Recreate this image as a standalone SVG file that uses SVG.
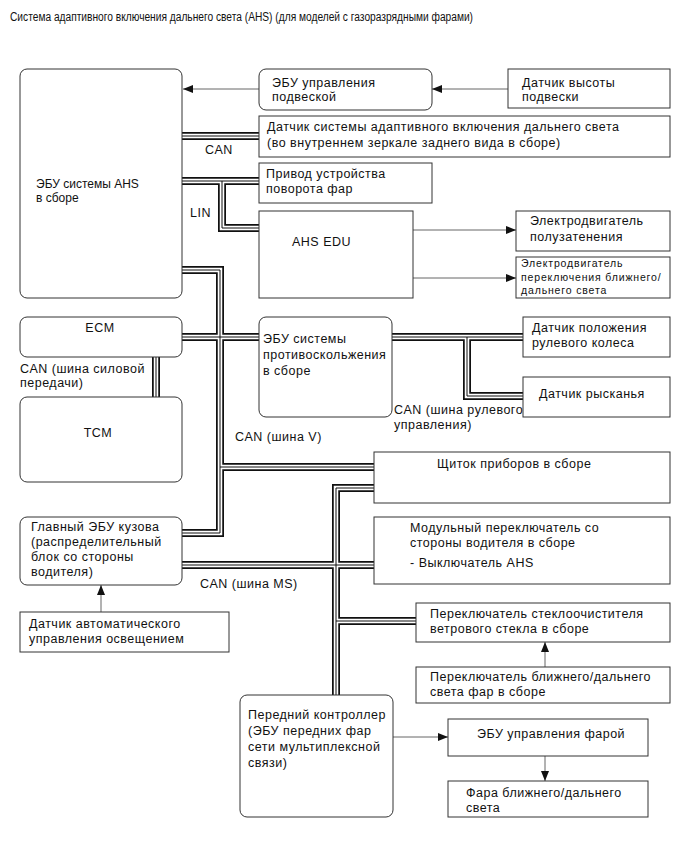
<svg xmlns="http://www.w3.org/2000/svg" xmlns:xlink="http://www.w3.org/1999/xlink" width="689" height="854" viewBox="0 0 689 854">
<style>
  text { font-family: "Liberation Sans", Arial, sans-serif; font-size: 12.5px; letter-spacing: 0.5px; fill: #111; }
  .sm { font-size: 10.5px; letter-spacing: 0.85px; }
  .plain { font-size: 12px; letter-spacing: 0; }
  .box { fill: #fff; stroke: #333; stroke-width: 1; }
  .bo { fill: none; stroke: #111; stroke-width: 8; stroke-linejoin: miter; }
  .bw { fill: none; stroke: #fff; stroke-width: 4.5; stroke-linejoin: miter; }
  .bc { fill: none; stroke: #111; stroke-width: 1; stroke-linejoin: miter; }
  .arr { fill: none; stroke: #666; stroke-width: 1; marker-end: url(#ah); }
</style>
<defs>
  <marker id="ah" viewBox="0 0 10 8" refX="10" refY="4" markerWidth="10" markerHeight="8" markerUnits="userSpaceOnUse" orient="auto">
    <path d="M0,0 L10,4 L0,8 z" fill="#111"/>
  </marker>
  <path id="b_can" d="M182,136 H259"/>
  <path id="b_lin" d="M182,181 H259 M222,181 V228 H259"/>
  <path id="b_v" d="M182,270 H220 V533 H182 M182,337 H259 M220,467 H374"/>
  <path id="b_pt" d="M156,357 V397"/>
  <path id="b_st" d="M392,337 H523 M467,337 V396 H523"/>
  <path id="b_ms" d="M374,488 H336 V695 M182,565 H374 M336,621 H416"/>
</defs>

<text class="plain" x="10" y="21" textLength="463" lengthAdjust="spacingAndGlyphs">Система адаптивного включения дальнего света (AHS) (для моделей с газоразрядными фарами)</text>

<g id="connectors">
  <g id="buses">
    <g class="bo"><use xlink:href="#b_can"/><use xlink:href="#b_lin"/><use xlink:href="#b_v"/><use xlink:href="#b_pt"/><use xlink:href="#b_st"/><use xlink:href="#b_ms"/></g>
    <g class="bw"><use xlink:href="#b_can"/><use xlink:href="#b_lin"/><use xlink:href="#b_v"/><use xlink:href="#b_pt"/><use xlink:href="#b_st"/><use xlink:href="#b_ms"/></g>
    <g class="bc"><use xlink:href="#b_can"/><use xlink:href="#b_lin"/><use xlink:href="#b_v"/><use xlink:href="#b_pt"/><use xlink:href="#b_st"/><use xlink:href="#b_ms"/></g>
  </g>
  <path class="arr" d="M259,89 H183"/>
  <path class="arr" d="M508,89 H432"/>
  <path class="arr" d="M413,230 H516"/>
  <path class="arr" d="M413,278 H516"/>
  <path class="arr" d="M101,612 V585"/>
  <path class="arr" d="M545,667 V642"/>
  <path class="arr" d="M393,737 H448"/>
  <path class="arr" d="M545,756 V781"/>
  <text x="205" y="154">CAN</text>
  <text x="190" y="217">LIN</text>
  <text x="20" y="373">CAN (шина силовой</text>
  <text x="20" y="387">передачи)</text>
  <text x="235" y="441">CAN (шина V)</text>
  <text x="394" y="414">CAN (шина рулевого</text>
  <text x="394" y="429">управления)</text>
  <text x="200" y="588">CAN (шина MS)</text>
</g>

<g id="ahs_ecu"><rect class="box" x="20" y="69" width="162" height="229" rx="7"/>
  <text class="plain" x="36" y="188">ЭБУ системы AHS</text><text class="plain" x="36" y="202">в сборе</text></g>
<g id="susp_ecu"><rect class="box" x="259" y="69" width="173" height="41" rx="7"/>
  <text x="272" y="87">ЭБУ управления</text><text x="272" y="101">подвеской</text></g>
<g id="height_sensor"><rect class="box" x="508" y="69" width="162" height="39"/>
  <text x="522" y="87">Датчик высоты</text><text x="522" y="101">подвески</text></g>
<g id="ahs_sensor"><rect class="box" x="259" y="116" width="411" height="41"/>
  <text x="267" y="131">Датчик системы адаптивного включения дальнего света</text>
  <text x="267" y="147">(во внутреннем зеркале заднего вида в сборе)</text></g>
<g id="swivel"><rect class="box" x="259" y="163" width="173" height="40"/>
  <text x="266" y="178">Привод устройства</text><text x="266" y="193">поворота фар</text></g>
<g id="ahs_edu"><rect class="box" x="259" y="211" width="154" height="87"/>
  <text x="292" y="246">AHS EDU</text></g>
<g id="shade_motor"><rect class="box" x="516" y="211" width="154" height="40"/>
  <text x="530" y="225">Электродвигатель</text><text x="530" y="241">полузатенения</text></g>
<g id="beam_motor"><rect class="box" x="516" y="257" width="154" height="41"/>
  <text class="sm" x="521" y="267">Электродвигатель</text><text class="sm" x="521" y="281">переключения ближнего/</text><text class="sm" x="521" y="294">дальнего света</text></g>
<g id="ecm"><rect class="box" x="20" y="317" width="162" height="40" rx="7"/>
  <text x="100" y="332" text-anchor="middle">ECM</text></g>
<g id="tcm"><rect class="box" x="20" y="397" width="162" height="85" rx="7"/>
  <text x="98" y="437" text-anchor="middle">TCM</text></g>
<g id="skid_ecu"><rect class="box" x="259" y="317" width="133" height="100" rx="7"/>
  <text x="263" y="343">ЭБУ системы</text><text x="263" y="359">противоскольжения</text><text x="263" y="375">в сборе</text></g>
<g id="steer_sensor"><rect class="box" x="523" y="317" width="147" height="40"/>
  <text x="532" y="332">Датчик положения</text><text x="532" y="347">рулевого колеса</text></g>
<g id="yaw_sensor"><rect class="box" x="523" y="377" width="147" height="40"/>
  <text x="539" y="398">Датчик рысканья</text></g>
<g id="meter"><rect class="box" x="374" y="452" width="296" height="51"/>
  <text x="437" y="468">Щиток приборов в сборе</text></g>
<g id="main_body"><rect class="box" x="20" y="517" width="162" height="68" rx="7"/>
  <text x="31" y="531">Главный ЭБУ кузова</text><text x="31" y="546">(распределительный</text><text x="31" y="561">блок со стороны</text><text x="31" y="576">водителя)</text></g>
<g id="light_sensor"><rect class="box" x="20" y="612" width="209" height="40"/>
  <text x="29" y="628">Датчик автоматического</text><text x="29" y="643">управления освещением</text></g>
<g id="combo_switch"><rect class="box" x="374" y="517" width="296" height="67"/>
  <text x="410" y="532">Модульный переключатель со</text><text x="410" y="547">стороны водителя в сборе</text><text x="410" y="567">- Выключатель AHS</text></g>
<g id="wiper_switch"><rect class="box" x="416" y="603" width="254" height="39"/>
  <text x="430" y="618">Переключатель стеклоочистителя</text><text x="430" y="633">ветрового стекла в сборе</text></g>
<g id="dimmer_switch"><rect class="box" x="416" y="667" width="254" height="36"/>
  <text x="430" y="681">Переключатель ближнего/дальнего</text><text x="430" y="696">света фар в сборе</text></g>
<g id="front_ctrl"><rect class="box" x="240" y="695" width="153" height="122" rx="7"/>
  <text x="248" y="719">Передний контроллер</text><text x="248" y="735">(ЭБУ передних фар</text><text x="248" y="751">сети мультиплексной</text><text x="248" y="767">связи)</text></g>
<g id="hl_ecu"><rect class="box" x="448" y="719" width="200" height="37"/>
  <text x="477" y="738">ЭБУ управления фарой</text></g>
<g id="headlamp"><rect class="box" x="448" y="781" width="200" height="36"/>
  <text x="466" y="797">Фара ближнего/дальнего</text><text x="466" y="812">света</text></g>
</svg>
